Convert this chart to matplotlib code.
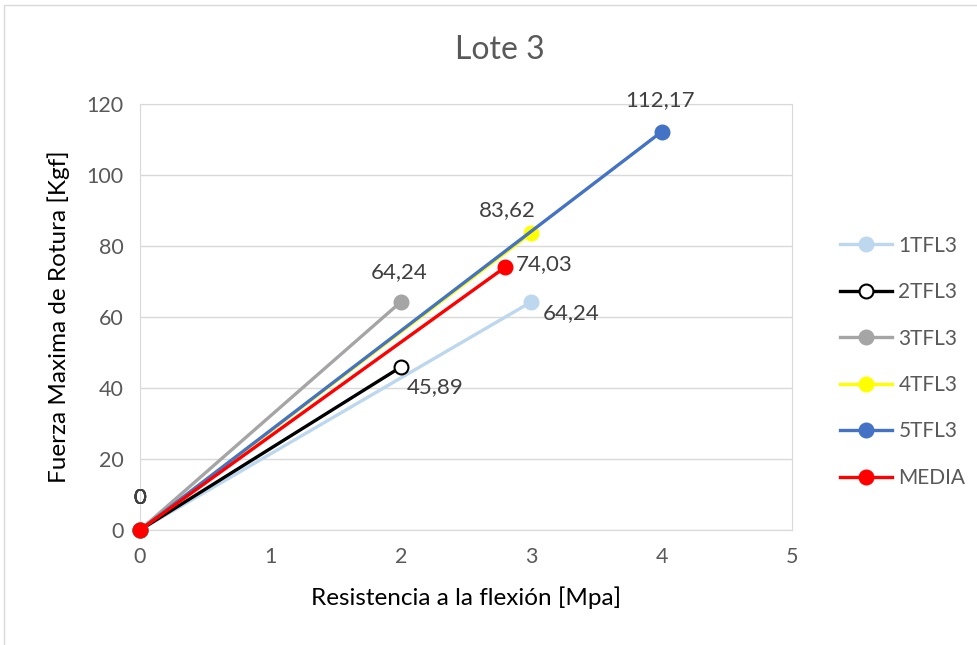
import matplotlib.pyplot as plt
from matplotlib.patches import Rectangle

# data
series = ['1TFL3', '2TFL3', '3TFL3', '4TFL3', '5TFL3', 'MEDIA']
x_end = [3, 2, 2, 3, 4, 2.8]
y_end = [64.24, 45.89, 64.24, 83.62, 112.17, 74.03]
end_labels = ['64,24', '45,89', '64,24', '83,62', '112,17', '74,03']

colors = ['#BDD7EE', '#000000', '#A5A5A5', '#FFFF00', '#4472C4', '#FF0000']
face = ['#BDD7EE', '#FFFFFF', '#A5A5A5', '#FFFF00', '#4472C4', '#FF0000']
# label offsets in pixels (dx, dy) and alignment
offsets = [(12, -11), (6, -20), (-2, 30), (-24, 23), (-2, 32), (11, 3)]
aligns = ['left', 'left', 'center', 'center', 'center', 'left']

plt.rcParams['font.family'] = ['Lato', 'DejaVu Sans']

fig = plt.figure(figsize=(9.77, 6.45), dpi=100)
ax = fig.add_axes([140 / 977, 1 - 530 / 645, 652 / 977, 426 / 645])

for i, name in enumerate(series):
    ax.plot([0, x_end[i]], [0, y_end[i]], color=colors[i], lw=2.4,
            marker='o', ms=10, mfc=face[i], mec=colors[i], mew=1.5,
            label=name, zorder=3 + i, clip_on=False)

for i, name in enumerate(series):
    ax.annotate('0', (0, 0), xytext=(0, 32), textcoords='offset pixels',
                ha='center', va='center', fontsize=16, color='#404040')
    dx, dy = offsets[i]
    ax.annotate(end_labels[i], (x_end[i], y_end[i]), xytext=(dx, dy),
                textcoords='offset pixels', ha=aligns[i], va='center',
                fontsize=16, color='#404040')

ax.set_xlim(0, 5)
ax.set_ylim(0, 120)
ax.set_xticks(range(0, 6))
ax.set_yticks(range(0, 121, 20))
ax.grid(axis='y', color='#D9D9D9', lw=1)
ax.set_axisbelow(True)
for s in ax.spines.values():
    s.set_color('#D9D9D9')
ax.tick_params(length=0, labelsize=15.5, labelcolor='#595959', pad=12)

fig.text(500 / 977, 1 - 50 / 645, 'Lote 3', fontsize=23, color='#595959',
         ha='center', va='center')
ax.set_xlabel('Resistencia a la flexión [Mpa]', fontsize=17.5, color='#000000', labelpad=14)
ax.set_ylabel('Fuerza Maxima de Rotura [Kgf]', fontsize=17.5, color='#000000', labelpad=12)

leg = ax.legend(loc='center left', bbox_to_anchor=(1.045, 0.395), frameon=False,
                fontsize=15, labelcolor='#595959', handlelength=2.5,
                labelspacing=1.27, handletextpad=0.3)

fig.patches.append(Rectangle((4 / 977, -0.01), 1.0, 1 - 5 / 645 + 0.01,
                             transform=fig.transFigure, fill=False,
                             ec='#D9D9D9', lw=1))

fig.savefig('out.png', dpi=100)
